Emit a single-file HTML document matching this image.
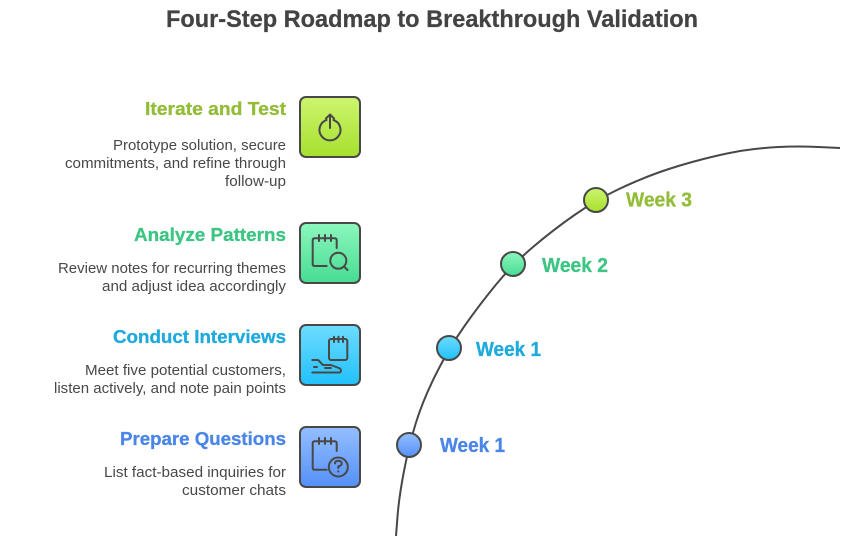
<!DOCTYPE html>
<html><head><meta charset="utf-8">
<style>html,body{margin:0;padding:0;background:#fff}svg{display:block}text{font-family:"Liberation Sans",sans-serif}</style>
</head><body>
<svg width="864" height="559" viewBox="0 0 864 559" xmlns="http://www.w3.org/2000/svg">
<defs>
<linearGradient id="gg" x1="0" y1="0" x2="0" y2="1"><stop offset="0" stop-color="#cdf56e"/><stop offset="1" stop-color="#a6e02e"/></linearGradient>
<linearGradient id="tg" x1="0" y1="0" x2="0" y2="1"><stop offset="0" stop-color="#8cf7bd"/><stop offset="1" stop-color="#47dc92"/></linearGradient>
<linearGradient id="cg" x1="0" y1="0" x2="0" y2="1"><stop offset="0" stop-color="#6ddcff"/><stop offset="1" stop-color="#22c0fb"/></linearGradient>
<linearGradient id="bg" x1="0" y1="0" x2="0" y2="1"><stop offset="0" stop-color="#94bfff"/><stop offset="1" stop-color="#5590f8"/></linearGradient>
</defs>

<text x="432" y="27" text-anchor="middle" font-size="24" font-weight="700" fill="#434343" stroke="#434343" stroke-width=".25" textLength="532" lengthAdjust="spacingAndGlyphs">Four-Step Roadmap to Breakthrough Validation</text>

<path d="M396 536 L397.5 516.5 Q399 497 404 471 Q409 445 416 422.5 Q423 400 436 374 Q449 348 464.5 326 Q480 304 496.5 284 Q513 264 533 247 Q553 230 574.5 215 Q596 200 618 189.5 Q640 179 660 172 Q680 165 703.5 159 Q727 153 743.5 150.5 Q760 148 778.5 147 Q797 146 818.5 147 L840 148" fill="none" stroke="#484848" stroke-width="2"/>

<circle cx="596" cy="200" r="12" fill="url(#gg)" stroke="#484848" stroke-width="2"/>
<circle cx="513" cy="264" r="12" fill="url(#tg)" stroke="#484848" stroke-width="2"/>
<circle cx="449" cy="348" r="12" fill="url(#cg)" stroke="#484848" stroke-width="2"/>
<circle cx="409" cy="445" r="12" fill="url(#bg)" stroke="#484848" stroke-width="2"/>

<g font-size="20" font-weight="700" stroke-width=".3">
<text x="626" y="206.5" fill="#93bd38" stroke="#93bd38" textLength="66" lengthAdjust="spacingAndGlyphs">Week 3</text>
<text x="542" y="272" fill="#3cc583" stroke="#3cc583" textLength="66" lengthAdjust="spacingAndGlyphs">Week 2</text>
<text x="476" y="356" fill="#1eaadc" stroke="#1eaadc" textLength="65" lengthAdjust="spacingAndGlyphs">Week 1</text>
<text x="440" y="452" fill="#4a86e8" stroke="#4a86e8" textLength="65" lengthAdjust="spacingAndGlyphs">Week 1</text>
</g>

<g stroke="#484848" stroke-width="2">
<rect x="300" y="97" width="60" height="60" rx="6" fill="url(#gg)"/>
<rect x="300" y="223" width="60" height="60" rx="6" fill="url(#tg)"/>
<rect x="300" y="325" width="60" height="60" rx="6" fill="url(#cg)"/>
<rect x="300" y="427" width="60" height="60" rx="6" fill="url(#bg)"/>
</g>

<g text-anchor="end" font-size="18" font-weight="700" stroke-width=".3">
<text x="286" y="115" fill="#93bd38" stroke="#93bd38" textLength="141" lengthAdjust="spacingAndGlyphs">Iterate and Test</text>
<text x="286" y="241" fill="#3cc583" stroke="#3cc583" textLength="152" lengthAdjust="spacingAndGlyphs">Analyze Patterns</text>
<text x="286" y="343" fill="#1eaadc" stroke="#1eaadc" textLength="173" lengthAdjust="spacingAndGlyphs">Conduct Interviews</text>
<text x="286" y="445" fill="#4a86e8" stroke="#4a86e8" textLength="166" lengthAdjust="spacingAndGlyphs">Prepare Questions</text>
</g>

<g text-anchor="end" font-size="14.5" fill="#484848">
<text x="286" y="150" textLength="173" lengthAdjust="spacingAndGlyphs">Prototype solution, secure</text>
<text x="286" y="168" textLength="221" lengthAdjust="spacingAndGlyphs">commitments, and refine through</text>
<text x="286" y="186" textLength="61" lengthAdjust="spacingAndGlyphs">follow-up</text>
<text x="286" y="273" textLength="228" lengthAdjust="spacingAndGlyphs">Review notes for recurring themes</text>
<text x="286" y="291" textLength="184" lengthAdjust="spacingAndGlyphs">and adjust idea accordingly</text>
<text x="286" y="375" textLength="201" lengthAdjust="spacingAndGlyphs">Meet five potential customers,</text>
<text x="286" y="393" textLength="232" lengthAdjust="spacingAndGlyphs">listen actively, and note pain points</text>
<text x="286" y="477" textLength="182" lengthAdjust="spacingAndGlyphs">List fact-based inquiries for</text>
<text x="286" y="495" textLength="104" lengthAdjust="spacingAndGlyphs">customer chats</text>
</g>

<g fill="none" stroke="#484848" stroke-width="2" stroke-linecap="round" stroke-linejoin="round">
<!-- power / upload -->
<path d="M326.5 120 A10.5 10.5 0 1 0 333.5 120"/>
<path d="M330 128 V114.5 M326 118.5 L330 114.5 L334 118.5"/>
<!-- notes + magnifier -->
<path d="M336.7 248 V240.3 Q336.7 238.3 334.7 238.3 H314.7 Q312.7 238.3 312.7 240.3 V264 Q312.7 266 314.7 266 H326.7"/>
<path d="M319 235 V241 M325 235 V241 M331 235 V241"/>
<circle cx="338.3" cy="260.7" r="8"/>
<path d="M344 266.5 L347.5 270"/>
<!-- notes + hand -->
<rect x="329" y="339" width="18.3" height="21" rx="2"/>
<path d="M334 336.7 V342 M338.5 336.7 V342 M343 336.7 V342"/>
<path d="M312.3 360 H317 Q319 360 320 362 L323 365 H331 L340 368.5 Q342 371 340 372.5 H312.3"/>
<path d="M314 367 H317 M325 368 H331"/>
<!-- notes + question -->
<path d="M336.7 451 V443.3 Q336.7 441.3 334.7 441.3 H314.7 Q312.7 441.3 312.7 443.3 V467.7 Q312.7 469.7 314.7 469.7 H326.7"/>
<path d="M319 438 V444 M325 438 V444 M331 438 V444"/>
<circle cx="338.3" cy="467" r="9.5"/>
<path d="M335 463.5 Q335 460.7 338.3 460.7 Q341.7 460.7 341.7 463.5 Q341.7 465.5 338.3 466.5 V468"/>
<path d="M338.3 471.3 V471.5"/>
</g>
</svg>
</body></html>
